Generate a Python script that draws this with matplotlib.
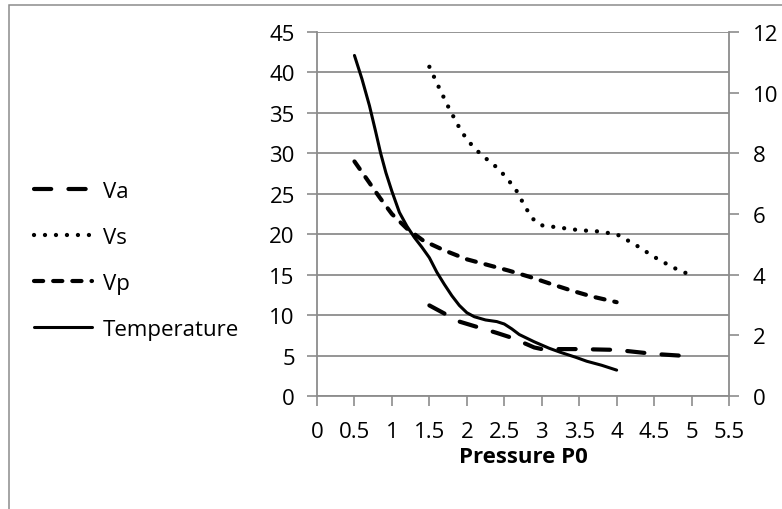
import matplotlib
matplotlib.use('Agg')
from matplotlib import pyplot as plt
from matplotlib.patches import Rectangle

# Data (left axis units)
temp_x = [0.5, 0.6, 0.7, 0.78, 0.85, 0.92, 1.0, 1.1, 1.2, 1.3, 1.4, 1.5, 1.6, 1.7, 1.8,
          1.9, 2.0, 2.1, 2.25, 2.4, 2.5, 2.6, 2.7, 2.9, 3.1, 3.25, 3.45, 3.6, 3.8, 4.0]
temp_y = [42.1, 39.2, 35.9, 32.8, 30.0, 27.6, 25.3, 22.7, 21.0, 19.6, 18.4, 17.1, 15.3, 13.8, 12.4,
          11.2, 10.3, 9.8, 9.4, 9.2, 8.9, 8.3, 7.6, 6.7, 5.9, 5.4, 4.8, 4.3, 3.8, 3.2]

vp_x = [0.5, 0.84, 1.0, 1.2, 1.42, 1.7, 2.0, 2.28, 2.56, 2.85, 3.14, 3.41, 3.67, 4.0]
vp_y = [29.0, 24.5, 22.5, 20.7, 19.2, 18.0, 16.9, 16.2, 15.5, 14.7, 13.8, 13.0, 12.3, 11.6]

va_x = [1.5, 1.9, 2.4, 2.6, 2.8, 2.9, 3.0, 3.5, 4.0, 4.5, 5.0]
va_y = [11.2, 9.2, 7.8, 7.2, 6.4, 6.0, 5.8, 5.8, 5.7, 5.2, 4.9]

vs_x = [1.5, 1.62, 1.75, 1.88, 2.0, 2.14, 2.25, 2.36, 2.5, 2.65, 2.79, 2.9, 3.0,
        3.25, 3.5, 3.75, 4.0, 4.25, 4.5, 4.75, 5.0]
vs_y = [40.7, 38.3, 35.8, 33.5, 31.7, 30.3, 29.4, 28.6, 27.3, 25.6, 23.2, 21.7, 21.1,
        20.8, 20.5, 20.35, 20.0, 18.7, 17.2, 15.9, 14.9]

x_ticks = [0, 0.5, 1, 1.5, 2, 2.5, 3, 3.5, 4, 4.5, 5, 5.5]
x_tick_labels = ['0', '0.5', '1', '1.5', '2', '2.5', '3', '3.5', '4', '4.5', '5', '5.5']
left_ticks = [0, 5, 10, 15, 20, 25, 30, 35, 40, 45]
right_ticks = [0, 2, 4, 6, 8, 10, 12]

plt.rcParams['font.family'] = ['Open Sans', 'DejaVu Sans']
plt.rcParams['lines.scale_dashes'] = False

GRAY = '#8c8c8c'
FS = 16

fig = plt.figure(figsize=(7.82, 5.10), dpi=100)
ax = fig.add_axes([317 / 782, 1 - 397 / 510, (729 - 317) / 782, (397 - 33) / 510])

# outer chart border (cut off at the right and bottom)
fig.patches.append(Rectangle((9 / 782, -0.1), 1.2, 1.1 - 5.5 / 510, transform=fig.transFigure,
                             fill=False, edgecolor=GRAY, linewidth=1.1))

l_va, = ax.plot(va_x, va_y, color='black', linewidth=3.0, linestyle=(0, (12.4, 12.4)),
                dash_capstyle='round', label='Va')
l_vs, = ax.plot(vs_x, vs_y, color='black', linewidth=3.1, linestyle=(0, (0.01, 7.9)),
                dash_capstyle='round', label='Vs')
l_vp, = ax.plot(vp_x, vp_y, color='black', linewidth=3.0, linestyle=(0, (6.6, 7.2)),
                dash_capstyle='round', label='Vp')
l_t, = ax.plot(temp_x, temp_y, color='black', linewidth=2.2, solid_capstyle='round',
               label='Temperature')

ax.set_xlim(0, 5.5)
ax.set_ylim(0, 45)
ax.set_xticks(x_ticks)
ax.set_xticklabels(x_tick_labels)
ax.set_yticks(left_ticks)
ax.yaxis.grid(True, color=GRAY, linewidth=1.3)
ax.set_axisbelow(True)
ax.tick_params(axis='both', direction='out', length=7, width=1.2, color=GRAY,
               labelsize=FS, labelcolor='black')
ax.tick_params(axis='y', pad=9)
ax.tick_params(axis='x', pad=11)
for side in ['top', 'right']:
   ax.spines[side].set_visible(False)
for side in ['left', 'bottom']:
   ax.spines[side].set_color(GRAY)
   ax.spines[side].set_linewidth(1.3)
ax.set_xlabel('Pressure P0', fontsize=FS, fontweight='bold', labelpad=3)

ax2 = ax.twinx()
ax2.set_ylim(0, 12)
ax2.set_yticks(right_ticks)
ax2.tick_params(axis='y', direction='out', length=7, width=1.2, color=GRAY,
                labelsize=FS, pad=10)
for side in ['top', 'left', 'bottom']:
   ax2.spines[side].set_visible(False)
ax2.spines['right'].set_color(GRAY)
ax2.spines['right'].set_linewidth(1.3)

fig.legend(handles=[l_va, l_vs, l_vp, l_t], loc='upper left',
           bbox_to_anchor=(34 / 782, 1 - 182 / 510), frameon=False, fontsize=FS,
           borderpad=0, borderaxespad=0, handlelength=2.6, handletextpad=0.5,
           labelspacing=1.12)

fig.savefig('out.png', dpi=100)
